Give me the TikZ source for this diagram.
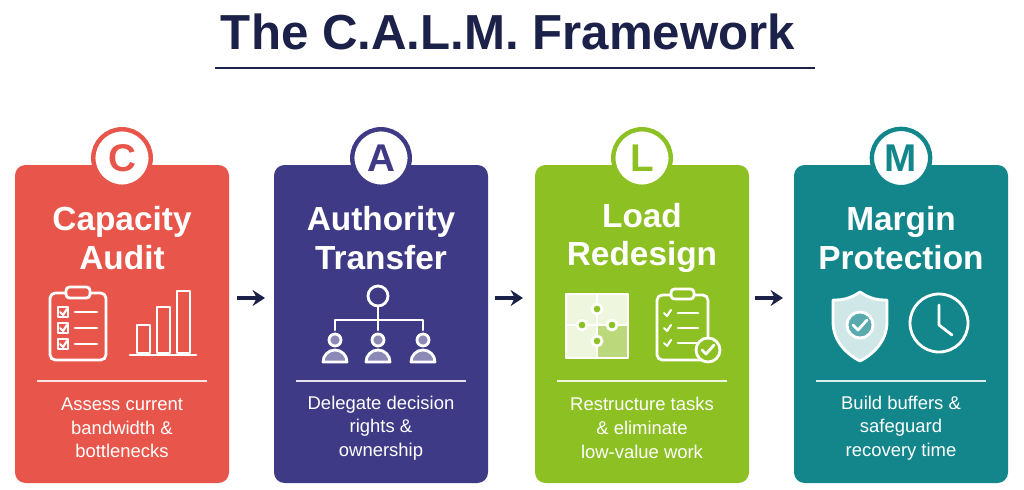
\documentclass[tikz,border=0pt]{standalone}
\usepackage{fontspec}
\setmainfont{Liberation Sans}
\usetikzlibrary{arrows.meta,positioning}
\definecolor{navy}{HTML}{1B2148}
\definecolor{cRed}{HTML}{E8554A}
\definecolor{cPurple}{HTML}{3F3A86}
\definecolor{cGreen}{HTML}{8DC022}
\definecolor{cTeal}{HTML}{12868A}
\tikzset{
  card/.style={rounded corners=6pt, draw=none},
  badge/.style={circle, fill=white, draw=#1, line width=2.5pt, minimum size=1.15cm, text=#1, font=\fontsize{22}{22}\selectfont\bfseries},
  head/.style={text=white, font=\fontsize{19}{22}\selectfont\bfseries, align=center},
  desc/.style={text=white, font=\fontsize{10.5}{13.5}\selectfont, align=center},
  icon/.style={white, line width=1.6pt, line join=round, line cap=round},
  flowarrow/.style={-{Stealth[length=7pt,width=9pt]}, navy, line width=2pt}
}
\begin{document}
\begin{tikzpicture}[x=0.02cm,y=-0.02cm]
\useasboundingbox[fill=white] (0,0) rectangle (1024,490);
%% Title
\node[text=navy, font=\fontsize{28}{30}\selectfont\bfseries] (title) at (508,32) {The C.A.L.M. Framework};
\draw[navy, line width=1.2pt] (215,68) -- (815,68);
%% Cards
\foreach \x/\c/\l/\h/\d/\n in {
  122/cRed/C/{Capacity\\Audit}/{Assess current\\bandwidth \&\\bottlenecks}/ca,
  381/cPurple/A/{Authority\\Transfer}/{Delegate decision\\rights \&\\ownership}/at,
  642/cGreen/L/{Load\\Redesign}/{Restructure tasks\\\& eliminate\\low-value work}/lr,
  901/cTeal/M/{Margin\\Protection}/{Build buffers \&\\safeguard\\recovery time}/mp}{
  \fill[card, \c] (\x-107,165) rectangle (\x+107,483);
  \node[badge=\c] (b-\n) at (\x,158) {\l};
  \node[head] (h-\n) at (\x,238) {\h};
  \draw[white!85!\c, line width=1pt] (\x-85,381) -- (\x+85,381);
  \node[desc] (d-\n) at (\x,428) {\d};
}
%% Arrows
\foreach \a in {250,508,768}{
  \coordinate (s\a) at (\a-13,298);
  \coordinate (e\a) at (\a+15,298);
  \draw[flowarrow] (s\a) -- (e\a);
}
%% Icons: clipboard and bars
\draw[icon, rounded corners=3pt] (50,293) rectangle (106,360);
\draw[icon, fill=cRed, rounded corners=2pt] (66,287) rectangle (90,298);
\foreach \y in {312,328,344}{
  \draw[icon, line width=1.2pt] (58,\y-5) rectangle (68,\y+5);
  \draw[icon, line width=1.2pt] (60,\y) -- (63,\y+3) -- (67,\y-3);
  \draw[icon] (75,\y) -- (97,\y);
}
\draw[icon] (137,325) rectangle (150,353);
\draw[icon] (157,307) rectangle (170,353);
\draw[icon] (177,291) rectangle (190,353);
\draw[icon] (130,355) -- (196,355);
%% Icons: org chart
\draw[icon] (378,296) circle (10);
\draw[icon] (378,306) -- (378,320) (335,330) -- (335,320) -- (423,320) -- (423,330) (378,320) -- (378,330);
\foreach \p in {335,378,423}{
  \draw[icon, fill=cPurple!60!white] (\p,340) circle (6);
  \draw[icon, fill=cPurple!60!white] (\p-12,362) arc (180:360:12 and 12) -- cycle;
}
%% Icons: puzzle and checklist
\draw[icon, fill=white!85!cGreen] (566,294) rectangle (597,325);
\draw[icon, fill=white!85!cGreen] (597,294) rectangle (628,325);
\draw[icon, fill=white!85!cGreen] (566,325) rectangle (597,358);
\draw[icon, fill=cGreen!60!white] (597,325) rectangle (628,358);
\draw[icon, fill=cGreen] (597,309) circle (5) (582,325) circle (5) (612,325) circle (5) (597,341) circle (5);
\draw[icon, rounded corners=3pt] (657,295) rectangle (708,360);
\draw[icon, fill=cGreen, rounded corners=2pt] (671,289) rectangle (694,299);
\foreach \y in {313,328,343}{
  \draw[icon, line width=1.2pt] (664,\y) -- (667,\y+3) -- (671,\y-3);
  \draw[icon] (678,\y) -- (698,\y);
}
\draw[icon, fill=cGreen] (708,350) circle (12);
\draw[icon] (702,350) -- (706,354) -- (714,345);
%% Icons: shield and clock
\draw[icon, fill=white!80!cTeal] (860,292) .. controls (848,300) and (840,300) .. (833,300)
  -- (833,322) .. controls (833,342) and (848,355) .. (860,361)
  .. controls (872,355) and (887,342) .. (887,322) -- (887,300)
  .. controls (880,300) and (872,300) .. (860,292) -- cycle;
\draw[icon, fill=cTeal!70!white] (860,325) circle (13);
\draw[icon] (853,325) -- (858,330) -- (867,320);
\draw[icon, fill=cTeal] (939,323) circle (29);
\draw[icon] (939,305) -- (939,325) -- (952,335);
\end{tikzpicture}
\end{document}
